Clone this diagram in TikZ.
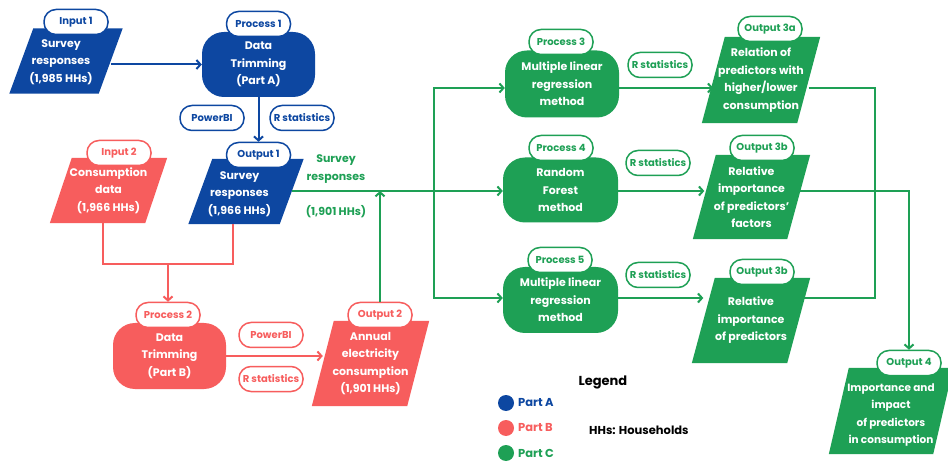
\documentclass[tikz,border=0pt]{standalone}
\usepackage{fontspec}
\setmainfont{Poppins}
\usetikzlibrary{arrows.meta,backgrounds}
\definecolor{cA}{HTML}{0D47A1}
\definecolor{cB}{HTML}{F75D5D}
\definecolor{cC}{HTML}{1EA055}
\newcommand\maintxt{\fontsize{11}{17.5}\selectfont\bfseries}
\newcommand\tagtxt{\fontsize{10}{12}\selectfont\bfseries}
\newcommand\legtxt{\fontsize{11.5}{13}\selectfont\bfseries}
\newcommand\parafill[3]{\fill[#3] ([xshift=-#2]#1.south west) -- ([xshift=#2]#1.north west) -- ([xshift=#2]#1.north east) -- ([xshift=-#2]#1.south east) -- cycle;}
\tikzset{
  pnode/.style={inner sep=0pt, text=white, align=center, font=\maintxt},
  ptext/.style={inner sep=0pt, text=white, align=center, font=\maintxt},
  box/.style={rounded corners=22pt, fill=#1, minimum width=114pt, minimum height=66pt, inner sep=0pt, text=white, align=center, font=\maintxt},
  tag/.style={draw=#1, text=#1, fill=white, line width=1.5pt, rounded corners=12pt, minimum width=64pt, minimum height=25pt, inner sep=1pt, font=\tagtxt},
  conn/.style={draw=#1, line width=2pt},
  carr/.style={draw=#1, line width=2pt, -{Straight Barb[length=4pt,width=9pt]}},
}
\begin{document}
\begin{tikzpicture}[x=1pt,y=-1pt]
\useasboundingbox (0,0) rectangle (948,462);

% parallelogram nodes
\node[pnode, minimum width=89, minimum height=65] (in1) at (66,61) {};
\node[ptext] (in1t) at (61,62) {Survey\\responses\\(1,985 HHs)};
\node[pnode, minimum width=95, minimum height=65] (in2) at (108.5,190.5) {Consumption\\data\\(1,966 HHs)};
\node[pnode, minimum width=91, minimum height=65] (out1) at (246,191.5) {};
\node[ptext] (out1t) at (239.5,194) {Survey\\responses\\(1,966 HHs)};
\node[pnode, minimum width=95, minimum height=85] (out2) at (370.5,363.5) {Annual\\electricity\\consumption\\(1,901 HHs)};
\node[pnode, minimum width=95, minimum height=86] (out3a) at (761,80) {Relation of\\predictors with\\higher/lower\\consumption};
\node[pnode, minimum width=94, minimum height=84] (out3b1) at (751.5,197) {Relative\\importance\\of predictors’\\factors};
\node[pnode, minimum width=95, minimum height=85] (out3b2) at (751,320.5) {Relative\\importance\\of predictors};
\node[pnode, minimum width=104, minimum height=86] (out4) at (891,411) {};
\node[ptext, font=\fontsize{10.5}{17.5}\selectfont\bfseries] (out4t) at (891,415) {Importance and\\impact\\of predictors\\in consumption};

\begin{pgfonlayer}{background}
\fill[white] (0,0) rectangle (948,462);
\parafill{in1}{12}{cA}
\parafill{in2}{11}{cB}
\parafill{out1}{12}{cA}
\parafill{out2}{11}{cB}
\parafill{out3a}{11.5}{cC}
\parafill{out3b1}{11.5}{cC}
\parafill{out3b2}{11.5}{cC}
\parafill{out4}{10}{cC}
\end{pgfonlayer}

% process boxes
\node[box=cA, minimum width=113, minimum height=65] (p1) at (258.5,64.5) {Data\\Trimming\\(Part A)};
\node[box=cB, minimum width=113] (p2) at (169.5,356) {Data\\Trimming\\(Part B)};
\node[box=cC, minimum height=67] (p3) at (562,84) {Multiple linear\\regression\\method};
\node[box=cC, minimum width=115, minimum height=65] (p4) at (560.5,190) {Random\\Forest\\method};
\node[box=cC, minimum width=115] (p5) at (560.5,300) {Multiple linear\\regression\\method};

% tags
\node[tag=cA] (in1tag) at (76,22) {Input 1};
\node[tag=cA] (p1tag) at (258.5,24) {Process 1};
\node[tag=cA] (pbiA) at (212,118) {PowerBI};
\node[tag=cA] (rsA) at (302,118) {R statistics};
\node[tag=cB] (in2tag) at (119,153) {Input 2};
\node[tag=cA] (out1tag) at (258.5,155) {Output 1};
\node[tag=cB] (p2tag) at (168,315) {Process 2};
\node[tag=cB] (pbiB) at (271,335) {PowerBI};
\node[tag=cB] (rsB) at (271,379) {R statistics};
\node[tag=cB] (out2tag) at (380,315) {Output 2};
\node[tag=cC] (p3tag) at (561,42) {Process 3};
\node[tag=cC] (rs3) at (660,65) {R statistics};
\node[tag=cC] (out3atag) at (770,29) {Output 3a};
\node[tag=cC] (p4tag) at (561,148) {Process 4};
\node[tag=cC] (rs4) at (658,163) {R statistics};
\node[tag=cC] (out3b1tag) at (762,148) {Output 3b};
\node[tag=cC] (p5tag) at (560,260) {Process 5};
\node[tag=cC] (rs5) at (658,275) {R statistics};
\node[tag=cC] (out3b2tag) at (762,272) {Output 3b};
\node[tag=cC] (out4tag) at (909,363) {Output 4};

% green labels
\node[text=cC, align=center, font=\maintxt] (lbl1) at (336,169) {Survey\\responses};
\node[text=cC, font=\maintxt] (lbl2) at (336,212) {(1,901 HHs)};

% helper coordinates
\coordinate (br) at (434,191);
\coordinate (r3) at (0,88);
\coordinate (r4) at (0,191);
\coordinate (r5) at (0,298);
\coordinate (v1) at (875,0);
\coordinate (v2) at (909,0);
\coordinate (rj) at (168,264);

% blue connectors
\draw[carr=cA] (in1.east |- p1.west) -- (p1.west);
\draw[carr=cA] (p1.south) -- (out1tag.north);

% red connectors
\draw[conn=cB] ([xshift=-5.5]in2.south) |- (rj);
\draw[conn=cB] ([xshift=-13]out1.south) |- (rj);
\draw[carr=cB] (rj) -- (p2tag.north);
\draw[carr=cB] (p2.east) -- (p2.east -| out2.west);

% green connectors
\draw[conn=cC] (out1.east |- r4) -- (br);
\draw[carr=cC] (br) -- (p4.west |- r4);
\draw[carr=cC] (br) |- (p3.west |- r3);
\draw[carr=cC] (br) |- (p5.west |- r5);
\draw[carr=cC] (out2tag.north) -- (out2tag.north |- r4);
\draw[carr=cC] (p3.east |- r3) -- (out3a.west |- r3);
\draw[carr=cC] (p4.east |- r4) -- (out3b1.west |- r4);
\draw[carr=cC] (p5.east |- r5) -- (out3b2.west |- r5);
\draw[conn=cC] (out3a.east |- r3) -- (v1 |- r3) -- (v1 |- r5) -- (out3b2.east |- r5);
\draw[carr=cC] (out3b1.east |- r4) -- (v2 |- r4) -- (out4tag.north);

% legend
\node[font=\fontsize{13}{15}\selectfont\bfseries] (leg) at (603,382) {Legend};
\node[circle, fill=cA, minimum size=16pt, inner sep=0pt] (ca) at (506,403) {};
\node[circle, fill=cB, minimum size=16pt, inner sep=0pt] (cb) at (506,428) {};
\node[circle, fill=cC, minimum size=16pt, inner sep=0pt] (cc) at (506,453) {};
\node[anchor=west, text=cA, font=\legtxt, inner sep=0pt] (pa) at (518,403) {Part A};
\node[anchor=west, text=cB, font=\legtxt, inner sep=0pt] (pb) at (518,428) {Part B};
\node[anchor=west, text=cC, font=\legtxt, inner sep=0pt] (pc) at (518,453) {Part C};
\node[anchor=west, font=\legtxt, inner sep=0pt] (hh) at (589,430) {HHs: Households};
\end{tikzpicture}
\end{document}
